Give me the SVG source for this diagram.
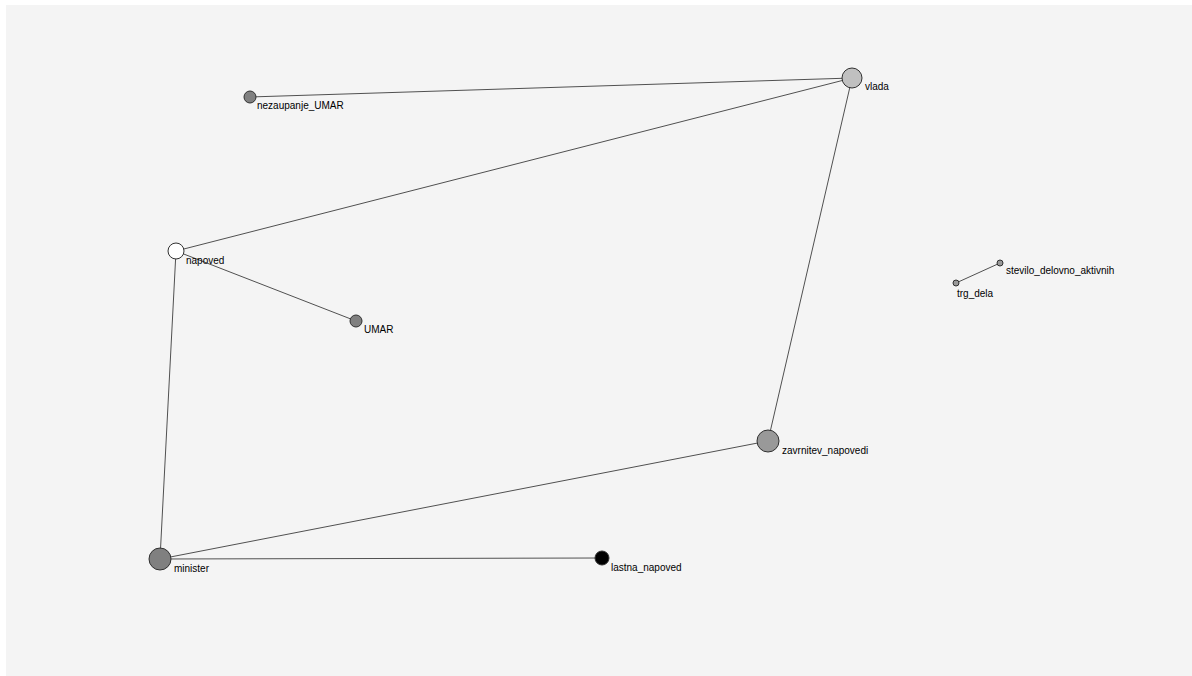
<svg xmlns="http://www.w3.org/2000/svg" width="1192" height="676" viewBox="0 0 1192 676">
<style>
.e{stroke:#505050;stroke-width:1;fill:none}
.n{stroke:#303030;stroke-width:1}
text{font-family:"Liberation Sans",Arial,sans-serif;font-size:10px;fill:#000}
</style>
<rect x="0" y="0" width="1192" height="676" fill="#fff"/>
<rect x="6" y="5" width="1186" height="671" fill="#f4f4f4"/>
<g id="edges">
<line class="e" x1="250" y1="97" x2="852" y2="78"/>
<line class="e" x1="176" y1="251" x2="852" y2="78"/>
<line class="e" x1="176" y1="251" x2="356" y2="321"/>
<line class="e" x1="176" y1="251" x2="160" y2="559"/>
<line class="e" x1="852" y1="78" x2="768" y2="441"/>
<line class="e" x1="768" y1="441" x2="160" y2="559"/>
<line class="e" x1="160" y1="559" x2="602" y2="558"/>
<line class="e" x1="956" y1="283" x2="1000" y2="263"/>
</g>
<g id="nezaupanje_UMAR"><circle class="n" cx="250" cy="97" r="6" fill="#808080"/><text x="257" y="109">nezaupanje_UMAR</text></g>
<g id="vlada"><circle class="n" cx="852" cy="78" r="10" fill="#c0c0c0"/><text x="865" y="90">vlada</text></g>
<g id="napoved"><circle class="n" cx="176" cy="251" r="8" fill="#fff"/><text x="186" y="264">napoved</text></g>
<g id="UMAR"><circle class="n" cx="356" cy="321" r="6" fill="#808080"/><text x="364" y="333">UMAR</text></g>
<g id="stevilo_delovno_aktivnih"><circle class="n" cx="1000" cy="263" r="3" fill="#999"/><text x="1006" y="274">stevilo_delovno_aktivnih</text></g>
<g id="trg_dela"><circle class="n" cx="956" cy="283" r="3" fill="#999"/><text x="957" y="297">trg_dela</text></g>
<g id="zavrnitev_napovedi"><circle class="n" cx="768" cy="441" r="11" fill="#999"/><text x="782" y="454">zavrnitev_napovedi</text></g>
<g id="minister"><circle class="n" cx="160" cy="559" r="11" fill="#808080"/><text x="174" y="572">minister</text></g>
<g id="lastna_napoved"><circle class="n" cx="602" cy="558" r="7" fill="#000"/><text x="611" y="571">lastna_napoved</text></g>
</svg>
